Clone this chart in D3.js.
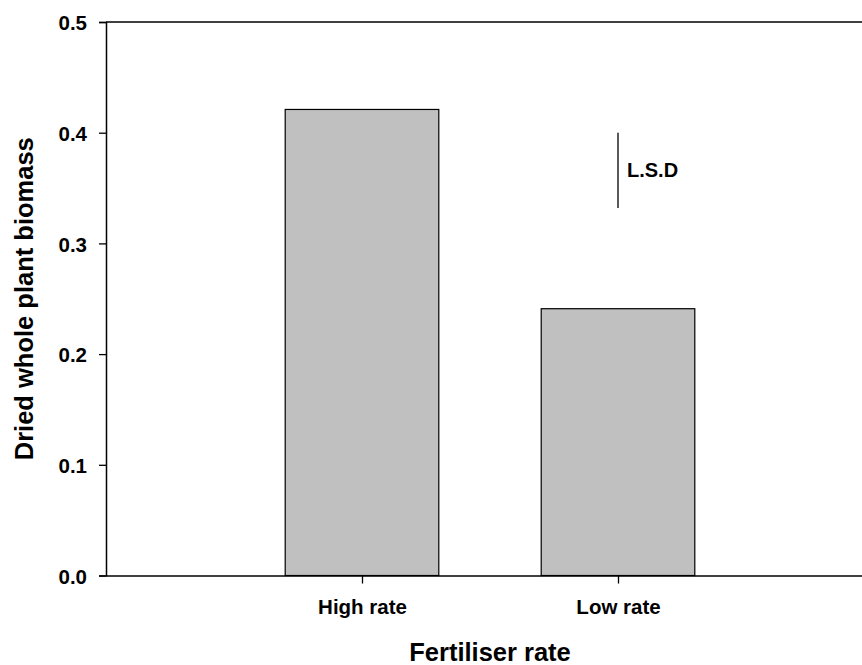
<!DOCTYPE html>
<html>
<head>
<meta charset="utf-8">
<script src="https://cdn.jsdelivr.net/npm/d3@7"></script>
<style>
  html, body { margin: 0; padding: 0; background: #fff; }
  svg { display: block; }
  text { font-family: "Liberation Sans", Arial, Helvetica, sans-serif; font-weight: bold; fill: #000; }
</style>
</head>
<body>
<svg id="chart" width="862" height="665"></svg>
<script>
// Fertiliser treatments and their dried whole-plant biomass
const categories = ["High rate", "Low rate"];
const positions = [1, 2];
const biomass = [0.421, 0.241];
const yTicks = [0.0, 0.1, 0.2, 0.3, 0.4, 0.5];
// Least significant difference bar: spans from lsdTop down by lsdValue
const lsdTop = 0.4;
const lsdValue = 0.068;
const lsdPosition = 2;
const lsdLabel = "L.S.D";

const svg = d3.select("#chart");

const x = d3.scaleLinear().domain([0, 3]).range([106, 874]);
const y = d3.scaleLinear().domain([0, 0.5]).range([575.5, 22]);
const barWidth = 0.6;

// Bars
svg.append("g")
  .selectAll("rect")
  .data(biomass)
  .join("rect")
  .attr("x", (d, i) => x(positions[i] - barWidth / 2))
  .attr("width", (d, i) => x(positions[i] + barWidth / 2) - x(positions[i] - barWidth / 2))
  .attr("y", d => y(d))
  .attr("height", d => y(0) - y(d))
  .attr("fill", "#c0c0c0")
  .attr("stroke", "#000")
  .attr("stroke-width", 1.2);

// Y axis
const yAxis = svg.append("g")
  .attr("transform", `translate(${x(0)},0)`)
  .call(d3.axisLeft(y).tickValues(yTicks).tickFormat(d3.format(".1f")).tickSize(7).tickPadding(12));
yAxis.select(".domain").attr("stroke", "#000").attr("stroke-width", 1.5);
yAxis.selectAll(".tick line").attr("stroke", "#000").attr("stroke-width", 1.3);
yAxis.selectAll(".tick text")
  .attr("dy", "0.38em")
  .attr("font-size", "20.5px")
  .attr("font-family", "Liberation Sans, Arial, sans-serif")
  .attr("font-weight", "bold")
  .attr("fill", "#000");

// X axis
const xAxis = svg.append("g")
  .attr("transform", `translate(0,${y(0)})`)
  .call(d3.axisBottom(x).tickValues(positions).tickFormat((d, i) => categories[i]).tickSize(8).tickPadding(16).tickSizeOuter(0));
xAxis.select(".domain").attr("stroke", "#000").attr("stroke-width", 1.5);
xAxis.selectAll(".tick line").attr("stroke", "#000").attr("stroke-width", 1.3);
xAxis.selectAll(".tick text")
  .attr("font-size", "20.5px")
  .attr("font-family", "Liberation Sans, Arial, sans-serif")
  .attr("font-weight", "bold")
  .attr("fill", "#000");

// Top frame line
svg.append("line")
  .attr("x1", x(0)).attr("x2", x(3))
  .attr("y1", y(0.5)).attr("y2", y(0.5))
  .attr("stroke", "#000").attr("stroke-width", 1.5);

// L.S.D indicator
svg.append("line")
  .attr("x1", x(lsdPosition)).attr("x2", x(lsdPosition))
  .attr("y1", y(lsdTop)).attr("y2", y(lsdTop - lsdValue))
  .attr("stroke", "#222").attr("stroke-width", 1.5);
svg.append("text")
  .attr("x", x(lsdPosition) + 9)
  .attr("y", y(lsdTop - lsdValue / 2) + 7)
  .attr("font-size", "20px")
  .text(lsdLabel);

// Axis titles
svg.append("text")
  .attr("x", (x(0) + x(3)) / 2)
  .attr("y", 661)
  .attr("text-anchor", "middle")
  .attr("font-size", "25.5px")
  .text("Fertiliser rate");

svg.append("text")
  .attr("transform", `translate(33,${(y(0) + y(0.5)) / 2}) rotate(-90)`)
  .attr("text-anchor", "middle")
  .attr("font-size", "25.5px")
  .text("Dried whole plant biomass");
</script>
</body>
</html>
